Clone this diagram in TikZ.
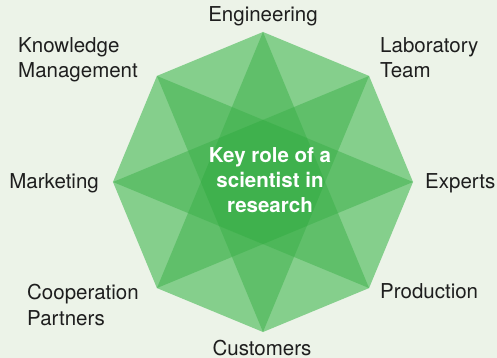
\documentclass[tikz,border=0pt]{standalone}
\usepackage{fontspec}
\setmainfont{TeX Gyre Heros}
\definecolor{bgpale}{RGB}{236,243,232}
\definecolor{octlight}{RGB}{133,207,140}
\definecolor{stargreen}{RGB}{60,177,74}
\definecolor{labelgray}{RGB}{30,30,30}
\begin{document}
\begin{tikzpicture}[
        x=1pt, y=1pt,
        every node/.style={inner sep=0pt, text=labelgray, font=\fontsize{20.5}{25.5}\selectfont},
        spike/.style={fill=stargreen, fill opacity=0.5}
    ]
        \fill[bgpale] (-263,-176) rectangle (234,182);
        \useasboundingbox (-263,-176) rectangle (234,182);

        % corners of the octagon
        \coordinate (eng)  at (90:150);
        \coordinate (lab)  at (45:150);
        \coordinate (exp)  at (0:150);
        \coordinate (prod) at (-45:150);
        \coordinate (cust) at (-90:150);
        \coordinate (coop) at (-135:150);
        \coordinate (mkt)  at (180:150);
        \coordinate (know) at (135:150);

        \fill[octlight] (eng) -- (lab) -- (exp) -- (prod) -- (cust) -- (coop) -- (mkt) -- (know) -- cycle;

        % four long diamonds make the star
        \fill[spike] (eng)  -- (0:62.1)    -- (cust) -- (180:62.1) -- cycle;
        \fill[spike] (lab)  -- (-45:62.1)  -- (coop) -- (135:62.1) -- cycle;
        \fill[spike] (exp)  -- (-90:62.1)  -- (mkt)  -- (90:62.1)  -- cycle;
        \fill[spike] (prod) -- (-135:62.1) -- (know) -- (45:62.1)  -- cycle;

        \node[text=white, align=center, font=\fontsize{20.5}{25}\selectfont\bfseries] (hub) at (7,2) {Key role of a\\scientist in\\research};

        \node[anchor=base] (engl) at (0,160) {Engineering};
        \node[anchor=north west, align=left] (labl) at (117,145) {Laboratory\\Team};
        \node[anchor=base west] (expl) at (162,-7) {Experts};
        \node[anchor=base west] (prodl) at (117,-117) {Production};
        \node[anchor=base] (custl) at (-1,-173) {Customers};
        \node[anchor=north west, align=left] (coopl) at (-236,-102) {Cooperation\\Partners};
        \node[anchor=base east] (mktl) at (-164,-7) {Marketing};
        \node[anchor=north west, align=left] (knowl) at (-245,145) {Knowledge\\Management};
    \end{tikzpicture}
\end{document}
